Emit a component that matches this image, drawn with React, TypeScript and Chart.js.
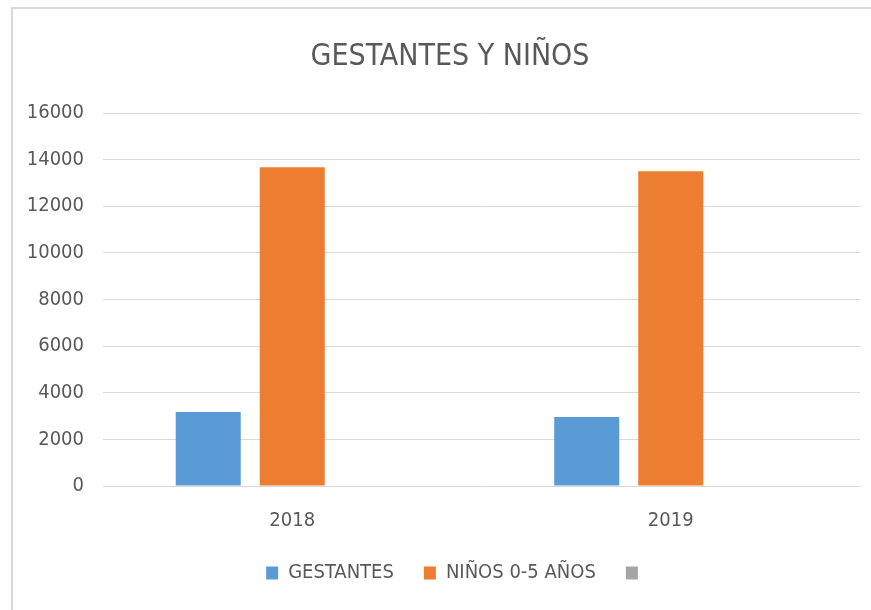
import React, { useEffect, useRef } from "react";
import { Chart, registerables } from "chart.js";

Chart.register(...registerables);

const categories = ["2018", "2019"];
const seriesNames = ["GESTANTES", "NIÑOS 0-5 AÑOS", ""];
const gestantes = [3170, 2960];
const ninos = [13670, 13500];
const tercera: (number | null)[] = [null, null];
const yMin = 0;
const yMax = 16000;
const yStep = 2000;
const titleText = "GESTANTES Y NIÑOS";

const FONT = "'Liberation Sans Narrow', 'DejaVu Sans Condensed', sans-serif";
const TEXT = "#595959";
const GRID = "#d9d9d9";

const shiftBoxes = {
  id: "shiftBoxes",
  afterLayout(chart: any) {
    const t = chart.titleBlock;
    if (t) {
      t.left += 20;
    }
    const l = chart.legend;
    if (l) {
      l.left += 17;
      l.right += 17;
    }
  },
};

export default function App() {
  const ref = useRef<HTMLCanvasElement | null>(null);

  useEffect(() => {
    if (!ref.current) return;
    const chart = new Chart(ref.current, {
      type: "bar",
      data: {
        labels: categories,
        datasets: [
          { label: seriesNames[0], data: gestantes, backgroundColor: "#5B9BD5" },
          { label: seriesNames[1], data: ninos, backgroundColor: "#ED7D31" },
          { label: seriesNames[2], data: tercera, backgroundColor: "#A5A5A5" },
        ],
      },
      plugins: [shiftBoxes],
      options: {
        responsive: false,
        animation: false,
        layout: { padding: { left: 20, right: 11, top: 0, bottom: 17 } },
        datasets: {
          bar: { categoryPercentage: 0.666, barPercentage: 0.774, borderWidth: 0 },
        },
        plugins: {
          title: {
            display: true,
            text: titleText,
            color: TEXT,
            font: { family: FONT, size: 30, weight: "normal" },
            padding: { top: 39, bottom: 38 },
          },
          legend: {
            position: "bottom",
            labels: {
              color: TEXT,
              font: { family: FONT, size: 20 },
              boxWidth: 12,
              boxHeight: 13,
              padding: 30,
            },
          },
          tooltip: { enabled: false },
        },
        scales: {
          x: {
            grid: { display: false },
            border: { display: false },
            ticks: { color: TEXT, font: { family: FONT, size: 20 }, padding: 15 },
            afterFit: (scale: any) => {
              scale.height = 47;
            },
          },
          y: {
            min: yMin,
            max: yMax,
            ticks: {
              stepSize: yStep,
              color: TEXT,
              font: { family: FONT, size: 20 },
              padding: 19,
              callback: (v: any) => String(v),
            },
            grid: { color: GRID, lineWidth: 1, drawTicks: false },
            border: { display: false },
            afterFit: (scale: any) => {
              scale.width = 83;
            },
          },
        },
      },
    });
    return () => chart.destroy();
  }, []);

  return (
    <div style={{ position: "fixed", left: 0, top: 0, width: 871, height: 610, background: "#fff" }}>
      <div
        style={{
          position: "absolute",
          left: 11,
          top: 7,
          width: 860,
          height: 603,
          borderTop: "2px solid #d9d9d9",
          borderLeft: "2px solid #d9d9d9",
          boxSizing: "border-box",
        }}
      />
      <canvas ref={ref} width={871} height={610} style={{ position: "absolute", left: 0, top: 0 }} />
    </div>
  );
}
